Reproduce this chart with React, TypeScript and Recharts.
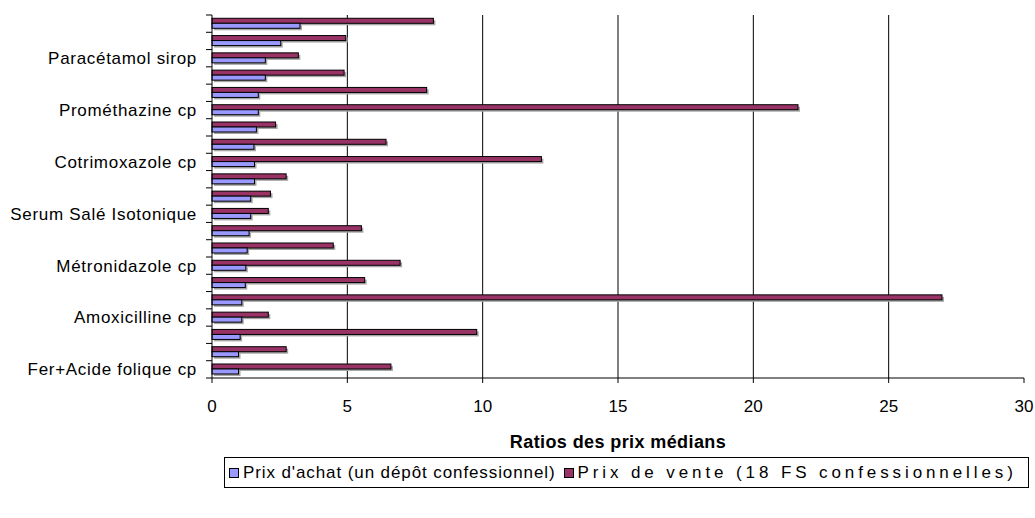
import { Bar, BarChart, CartesianGrid, XAxis, YAxis } from 'recharts';

// Categories listed top to bottom, as drawn. Only every third one carries a label.
const categories = [
    '', '', 'Paracétamol sirop', '', '', 'Prométhazine cp', '', '',
    'Cotrimoxazole cp', '', '', 'Serum Salé Isotonique', '', '', 'Métronidazole cp',
    '', '', 'Amoxicilline cp', '', '', 'Fer+Acide folique cp',
];

// Prix de vente (18 FS confessionnelles)
const vente = [
    8.18, 4.94, 3.19, 4.88, 7.93, 21.65, 2.35, 6.43, 12.17, 2.74, 2.16,
    2.08, 5.52, 4.48, 6.95, 5.64, 26.97, 2.08, 9.78, 2.74, 6.61,
];

// Prix d'achat (un dépôt confessionnel)
const achat = [
    3.25, 2.54, 1.97, 1.97, 1.71, 1.71, 1.64, 1.55, 1.57, 1.57, 1.43,
    1.43, 1.37, 1.30, 1.25, 1.23, 1.10, 1.10, 1.04, 0.98, 0.98,
];

const xTicks = [0, 5, 10, 15, 20, 25, 30];

const data = categories.map((name, i) => ({ key: String(i), name, vente: vente[i], achat: achat[i] }));

const W = 1035;
const H = 518;
const MARGIN = { top: 15, right: 11, bottom: 70, left: 0 };
const Y_WIDTH = 212;
const X_HEIGHT = 70;
const PLOT_H = H - MARGIN.top - MARGIN.bottom - X_HEIGHT;
const BAND = PLOT_H / categories.length;

const FONT = '"Liberation Sans", Arial, sans-serif';
const PURPLE = '#993366';
const BLUE = '#9999ff';

function YTick(props: any) {
    const { y, payload, index } = props;
    const ax = Y_WIDTH;
    const label = categories[Number(payload.value)];
    return (
        <g>
            <line x1={ax - 6} x2={ax} y1={y - BAND / 2} y2={y - BAND / 2} stroke="#000" />
            {index === categories.length - 1 && (
                <line x1={ax - 6} x2={ax} y1={y + BAND / 2} y2={y + BAND / 2} stroke="#000" />
            )}
            {label && (
                <text x={ax - 15} y={y} dy="0.35em" textAnchor="end" fontSize={17}
                    letterSpacing={0.7} fill="#000" fontFamily={FONT}>
                    {label}
                </text>
            )}
        </g>
    );
}

function ShadowBar(props: any) {
    const { x, y, width, height, fill } = props;
    if (!width || width <= 0) return null;
    return (
        <g>
            <rect x={x + 2} y={y + 2} width={width} height={height} fill="#a6a6a6" />
            <rect x={x} y={y} width={width} height={height} fill={fill} stroke="#000" strokeWidth={1} />
        </g>
    );
}

function Swatch({ color }: { color: string }) {
    return (
        <span style={{
            display: 'inline-block', width: 8, height: 8, background: color,
            border: '1px solid #000', marginRight: 4, verticalAlign: 'middle', position: 'relative', top: -1,
        }} />
    );
}

export default function App() {
    return (
        <div style={{ position: 'relative', width: W, height: H, fontFamily: FONT }}>
            <style>{'body { margin: 0; }'}</style>
            <BarChart
                width={W} height={H} data={data} layout="vertical" margin={MARGIN}
                barCategoryGap="19%" barGap={0}
            >
                <CartesianGrid horizontal={false} stroke="#000" verticalValues={[5, 10, 15, 20, 25]} />
                <XAxis
                    type="number" domain={[0, 30]} ticks={xTicks} interval={0}
                    tickSize={5} tickLine={{ stroke: '#000' }} axisLine={{ stroke: '#000' }}
                    height={X_HEIGHT} tickMargin={17}
                    tick={{ fill: '#000', fontSize: 17, fontFamily: FONT }}
                    label={({ viewBox }: any) => (
                        <text x={viewBox.x + viewBox.width / 2} y={viewBox.y + 70} textAnchor="middle"
                            fontWeight="bold" fontSize={18} letterSpacing={0.4} fill="#000" fontFamily={FONT}>
                            Ratios des prix médians
                        </text>
                    )}
                />
                <XAxis xAxisId="top" orientation="top" type="number" domain={[0, 30]}
                    height={0} tick={false} tickLine={false} axisLine={{ stroke: '#a0a0a0', strokeWidth: 2 }} />
                <YAxis
                    type="category" dataKey="key" width={Y_WIDTH} interval={0}
                    tickLine={false} axisLine={{ stroke: '#000' }} tick={<YTick />}
                />
                <YAxis yAxisId="right" orientation="right" type="number" domain={[0, 1]}
                    width={0} tick={false} tickLine={false} axisLine={{ stroke: '#a0a0a0', strokeWidth: 2 }} />
                <Bar dataKey="vente" name="Prix de vente (18 FS confessionnelles)" fill={PURPLE}
                    shape={<ShadowBar />} isAnimationActive={false} />
                <Bar dataKey="achat" name="Prix d'achat (un dépôt confessionnel)" fill={BLUE}
                    shape={<ShadowBar />} isAnimationActive={false} />
            </BarChart>
            <div style={{
                position: 'absolute', left: 224, top: 457, width: 799, height: 29,
                border: '1px solid #000', boxSizing: 'content-box', fontSize: 17, letterSpacing: 0.9,
                lineHeight: '29px', whiteSpace: 'nowrap', paddingLeft: 4,
            }}>
                <Swatch color={BLUE} />Prix d'achat (un dépôt confessionnel)
                <span style={{ display: 'inline-block', width: 8 }} />
                <Swatch color={PURPLE} />
                <span style={{ letterSpacing: 3.9 }}>Prix de vente (18 FS confessionnelles)</span>
            </div>
        </div>
    );
}
